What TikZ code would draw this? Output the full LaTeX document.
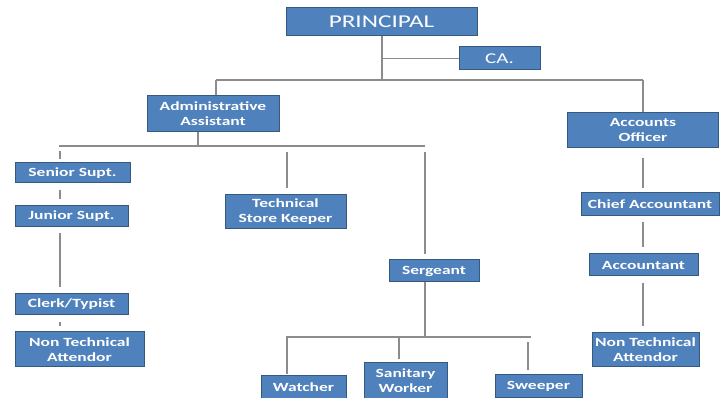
\documentclass[tikz,border=0pt]{standalone}
\usepackage{fontspec}
\newfontfamily\boxfont{Carlito}[FakeStretch=1.4]
\definecolor{boxblue}{HTML}{4F81BD}
\definecolor{boxedge}{HTML}{35597F}
\definecolor{linegrey}{HTML}{8C8C8C}
\tikzset{
  box/.style={draw=boxedge, fill=boxblue, line width=1pt, text=white, align=center, inner sep=0pt,
    font=\boxfont\bfseries\fontsize{12.5}{15}\selectfont},
  bigbox/.style={box, font=\boxfont\fontsize{18}{20}\selectfont},
  cabox/.style={box, font=\boxfont\fontsize{15}{17}\selectfont},
  link/.style={draw=linegrey, line width=1.1pt}
}
\begin{document}
\begin{tikzpicture}[x=1pt,y=-1pt]
\useasboundingbox (0,0) rectangle (721,398);
% boxes
\node[bigbox, minimum width=191pt, minimum height=28pt] (principal) at (381.5,22) {PRINCIPAL};
\node[cabox, minimum width=81pt, minimum height=23pt] (ca) at (499.5,58.5) {CA.};
\node[box, minimum width=132pt, minimum height=36pt] (admin) at (213,114) {Administrative\\Assistant};
\node[box, minimum width=151pt, minimum height=35pt] (ao) at (643,130) {Accounts\\Officer};
\node[box, minimum width=138pt, minimum height=23pt] (chief) at (650,204.5) {Chief Accountant};
\node[box, minimum width=109pt, minimum height=22pt] (acct) at (643.5,265) {Accountant};
\node[box, minimum width=107pt, minimum height=34pt] (ntar) at (645.5,350) {Non Technical\\Attendor};
\node[box, minimum width=115pt, minimum height=20pt] (senior) at (72.5,173) {Senior Supt.};
\node[box, minimum width=113pt, minimum height=21pt] (junior) at (71.5,216.5) {Junior Supt.};
\node[box, minimum width=113pt, minimum height=21pt] (clerk) at (71.5,304.5) {Clerk/Typist};
\node[box, minimum width=129pt, minimum height=35pt] (ntal) at (79.5,349.5) {Non Technical\\Attendor};
\node[box, minimum width=121pt, minimum height=34pt] (tsk) at (285.5,212) {Technical\\Store Keeper};
\node[box, minimum width=90pt, minimum height=22pt] (sgt) at (434,271) {Sergeant};
\node[box, minimum width=85pt, minimum height=22pt] (watcher) at (303.5,387) {Watcher};
\node[box, minimum width=83pt, minimum height=35pt] (sanitary) at (405.5,380.5) {Sanitary\\Worker};
\node[box, minimum width=87pt, minimum height=22pt] (sweeper) at (538.5,386) {Sweeper};
% junction coordinates
\coordinate (topbus) at (382,80);
\coordinate (camid) at (382,58.5);
\coordinate (busL) at (216,80);
\coordinate (busR) at (643,80);
\coordinate (adminbus) at (198,146);
\coordinate (admL) at (59,146);
\coordinate (admR) at (425,146);
\coordinate (sgtbus) at (425,337);
\coordinate (sgtL) at (286,337);
\coordinate (sgtR) at (531,337);
% connectors
\draw[link] (principal.south -| topbus) -- (topbus);
\draw[link] (camid) -- (ca.west);
\draw[link] (busL) -- (busR);
\draw[link] (busL) -- (admin.north -| busL);
\draw[link] (busR) -- (ao.north -| busR);
\draw[link] (admin.south -| adminbus) -- (adminbus);
\draw[link] (admL) -- (admR);
\draw[link] ([yshift=-5pt]admL -| 60,0) -- ([yshift=3pt]senior.north -| 60,0);
\draw[link] ([yshift=-7pt]senior.south -| 60,0) -- ([yshift=6pt]junior.north -| 60,0);
\draw[link] ([yshift=-6pt]junior.south -| 60,0) -- ([yshift=6pt]clerk.north -| 60,0);
\draw[link] ([yshift=-7pt]clerk.south -| 60,0) -- ([yshift=5pt]ntal.north -| 60,0);
\draw[link] ([yshift=-6pt]admL -| 287,0) -- ([yshift=6pt]tsk.north -| 287,0);
\draw[link] ([yshift=-6pt]admR) -- ([yshift=5pt]sgt.north -| admR);
\draw[link] (sgt.south -| sgtbus) -- (sgtbus);
\draw[link] (sgtL) -- (sgtR);
\draw[link] (sgtL -| 287,0) -- ([yshift=1pt]watcher.north -| 287,0);
\draw[link] (sgtL -| 399,0) -- ([yshift=3pt]sanitary.north -| 399,0);
\draw[link] ([yshift=-5pt]sgtL -| 528,0) -- ([yshift=4pt]sweeper.north -| 528,0);
\draw[link] ([yshift=-10pt]ao.south) -- ([yshift=4pt]chief.north -| ao.south);
\draw[link] ([yshift=-6pt]chief.south -| ao.south) -- ([yshift=6pt]acct.north -| ao.south);
\draw[link] ([yshift=-7pt]acct.south -| ao.south) -- ([yshift=6pt]ntar.north -| ao.south);
\end{tikzpicture}
\end{document}
